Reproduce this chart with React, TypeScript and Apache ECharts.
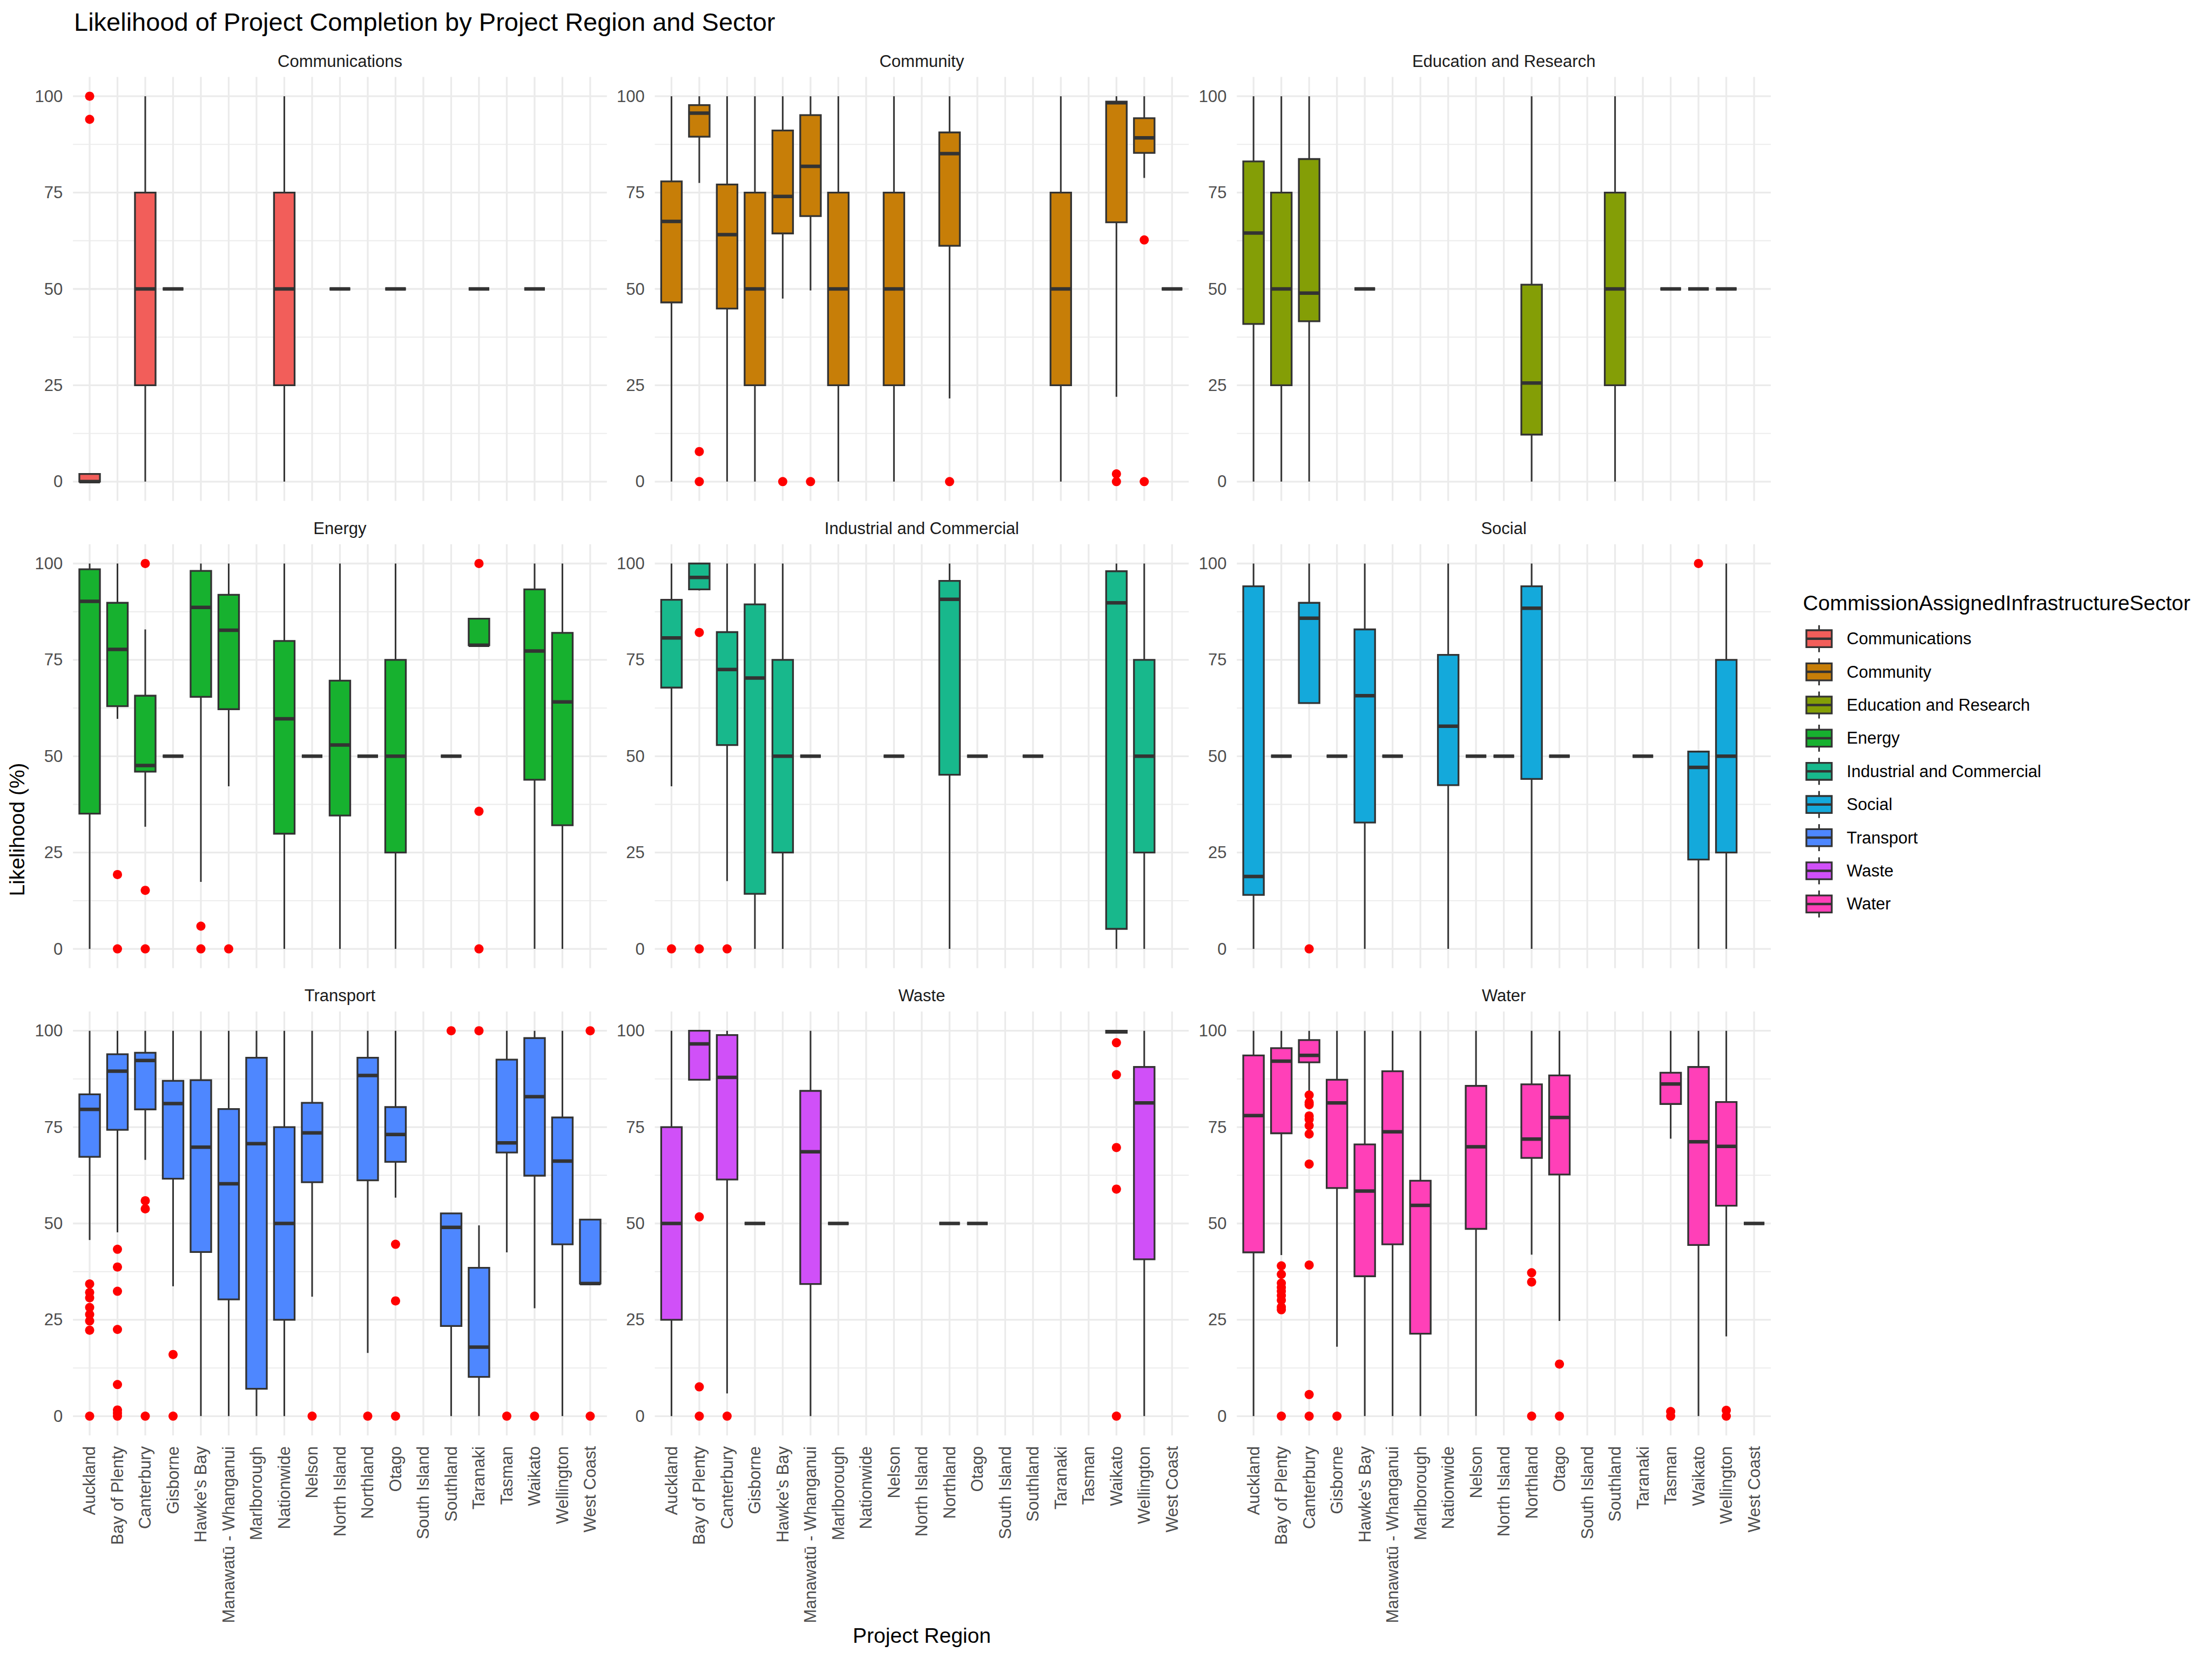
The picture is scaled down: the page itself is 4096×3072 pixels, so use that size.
import React, { useEffect, useRef } from "react";
import * as echarts from "echarts";

const regions = [
  "Auckland", "Bay of Plenty", "Canterbury", "Gisborne", "Hawke's Bay",
  "Manawatū - Whanganui", "Marlborough", "Nationwide", "Nelson", "North Island",
  "Northland", "Otago", "South Island", "Southland", "Taranaki", "Tasman",
  "Waikato", "Wellington", "West Coast",
];

const sectors = [
  "Communications", "Community", "Education and Research", "Energy",
  "Industrial and Commercial", "Social", "Transport", "Waste", "Water",
];

const sectorColors = [
  "#F25E5A", "#C77E08", "#849E06", "#17B12F", "#18B88C",
  "#14A9DB", "#4E87FF", "#D050F8", "#FF40B8",
];

const yMajorTicks = [0, 25, 50, 75, 100];
const yMinorTicks = [12.5, 37.5, 62.5, 87.5];

type Box = [string, number, number, number, number, number]; // region, lower whisker, q1, median, q3, upper whisker
type Out = [string, number];

const communicationsBoxes: Box[] = [
  ["Auckland", 0, 0, 0, 2, 2],
  ["Canterbury", 0, 25, 50, 75, 100],
  ["Gisborne", 50, 50, 50, 50, 50],
  ["Nationwide", 0, 25, 50, 75, 100],
  ["North Island", 50, 50, 50, 50, 50],
  ["Otago", 50, 50, 50, 50, 50],
  ["Taranaki", 50, 50, 50, 50, 50],
  ["Waikato", 50, 50, 50, 50, 50],
];
const communicationsOutliers: Out[] = [["Auckland", 100], ["Auckland", 94]];

const communityBoxes: Box[] = [
  ["Auckland", 0, 46.5, 67.5, 77.9, 100],
  ["Bay of Plenty", 77.5, 89.5, 95.6, 97.7, 100],
  ["Canterbury", 0, 44.9, 64.1, 77.1, 100],
  ["Gisborne", 0, 25, 50, 75, 100],
  ["Hawke's Bay", 47.5, 64.4, 74, 91.1, 100],
  ["Manawatū - Whanganui", 49.6, 68.9, 81.8, 95.1, 100],
  ["Marlborough", 0, 25, 50, 75, 100],
  ["Nelson", 0, 25, 50, 75, 100],
  ["Northland", 21.6, 61.2, 85.1, 90.6, 100],
  ["Taranaki", 0, 25, 50, 75, 100],
  ["Waikato", 22, 67.3, 98.3, 98.6, 100],
  ["Wellington", 78.8, 85.3, 89.2, 94.3, 100],
  ["West Coast", 50, 50, 50, 50, 50],
];
const communityOutliers: Out[] = [
  ["Bay of Plenty", 7.8], ["Bay of Plenty", 0], ["Hawke's Bay", 0],
  ["Manawatū - Whanganui", 0], ["Northland", 0], ["Waikato", 2], ["Waikato", 0],
  ["Wellington", 62.7], ["Wellington", 0],
];

const educationBoxes: Box[] = [
  ["Auckland", 0, 40.9, 64.5, 83.1, 100],
  ["Bay of Plenty", 0, 25, 50, 75, 100],
  ["Canterbury", 0, 41.6, 48.9, 83.7, 100],
  ["Hawke's Bay", 50, 50, 50, 50, 50],
  ["Northland", 0, 12.2, 25.6, 51.1, 100],
  ["Southland", 0, 25, 50, 75, 100],
  ["Tasman", 50, 50, 50, 50, 50],
  ["Waikato", 50, 50, 50, 50, 50],
  ["Wellington", 50, 50, 50, 50, 50],
];
const educationOutliers: Out[] = [];

const energyBoxes: Box[] = [
  ["Auckland", 0, 35.1, 90.2, 98.5, 100],
  ["Bay of Plenty", 59.7, 63.0, 77.7, 89.8, 100],
  ["Canterbury", 31.7, 46.0, 47.6, 65.7, 82.9],
  ["Gisborne", 50, 50, 50, 50, 50],
  ["Hawke's Bay", 17.4, 65.4, 88.6, 98.1, 100],
  ["Manawatū - Whanganui", 42.2, 62.2, 82.7, 91.9, 100],
  ["Nationwide", 0, 29.9, 59.7, 79.9, 100],
  ["Nelson", 50, 50, 50, 50, 50],
  ["North Island", 0, 34.6, 52.9, 69.6, 100],
  ["Northland", 50, 50, 50, 50, 50],
  ["Otago", 0, 25, 50, 75, 100],
  ["Southland", 50, 50, 50, 50, 50],
  ["Taranaki", 78.8, 78.8, 78.8, 85.7, 85.7],
  ["Waikato", 0, 43.9, 77.3, 93.3, 100],
  ["Wellington", 0, 32.1, 64.1, 82.0, 100],
];
const energyOutliers: Out[] = [
  ["Bay of Plenty", 19.3], ["Bay of Plenty", 0],
  ["Canterbury", 100], ["Canterbury", 15.2], ["Canterbury", 0],
  ["Hawke's Bay", 5.9], ["Hawke's Bay", 0], ["Manawatū - Whanganui", 0],
  ["Taranaki", 100], ["Taranaki", 35.7], ["Taranaki", 0],
];

const industrialBoxes: Box[] = [
  ["Auckland", 42.2, 67.8, 80.7, 90.6, 100],
  ["Bay of Plenty", 93, 93.3, 96.4, 100, 100],
  ["Canterbury", 17.6, 52.9, 72.5, 82.2, 100],
  ["Gisborne", 0, 14.3, 70.3, 89.4, 100],
  ["Hawke's Bay", 0, 25, 50, 75, 100],
  ["Manawatū - Whanganui", 50, 50, 50, 50, 50],
  ["Nelson", 50, 50, 50, 50, 50],
  ["Northland", 0, 45.2, 90.7, 95.5, 100],
  ["Otago", 50, 50, 50, 50, 50],
  ["Southland", 50, 50, 50, 50, 50],
  ["Waikato", 0, 5.2, 89.8, 98.0, 100],
  ["Wellington", 0, 25, 50, 75, 100],
];
const industrialOutliers: Out[] = [
  ["Auckland", 0], ["Bay of Plenty", 82.1], ["Bay of Plenty", 0], ["Canterbury", 0],
];

const socialBoxes: Box[] = [
  ["Auckland", 0, 14.0, 18.8, 94.1, 100],
  ["Bay of Plenty", 50, 50, 50, 50, 50],
  ["Canterbury", 63.8, 63.8, 85.8, 89.8, 100],
  ["Gisborne", 50, 50, 50, 50, 50],
  ["Hawke's Bay", 0, 32.8, 65.7, 82.9, 100],
  ["Manawatū - Whanganui", 50, 50, 50, 50, 50],
  ["Nationwide", 0, 42.5, 57.8, 76.3, 100],
  ["Nelson", 50, 50, 50, 50, 50],
  ["North Island", 50, 50, 50, 50, 50],
  ["Northland", 0, 44.1, 88.4, 94.1, 100],
  ["Otago", 50, 50, 50, 50, 50],
  ["Taranaki", 50, 50, 50, 50, 50],
  ["Waikato", 0, 23.2, 47.1, 51.2, 51.2],
  ["Wellington", 0, 25, 50, 75, 100],
];
const socialOutliers: Out[] = [["Canterbury", 0], ["Waikato", 100]];

const transportBoxes: Box[] = [
  ["Auckland", 45.7, 67.3, 79.6, 83.5, 100],
  ["Bay of Plenty", 47.7, 74.3, 89.5, 93.9, 100],
  ["Canterbury", 66.5, 79.6, 92.3, 94.3, 100],
  ["Gisborne", 33.7, 61.6, 81.1, 87.0, 100],
  ["Hawke's Bay", 0, 42.6, 69.8, 87.2, 100],
  ["Manawatū - Whanganui", 0, 30.3, 60.3, 79.7, 100],
  ["Marlborough", 0, 7.1, 70.7, 93.0, 100],
  ["Nationwide", 0, 25, 50, 75, 100],
  ["Nelson", 31.0, 60.7, 73.5, 81.3, 100],
  ["Northland", 16.4, 61.2, 88.4, 93.0, 100],
  ["Otago", 56.7, 66.0, 73.1, 80.2, 100],
  ["Southland", 0, 23.4, 49.0, 52.6, 52.6],
  ["Taranaki", 0, 10.2, 17.9, 38.5, 49.5],
  ["Tasman", 42.5, 68.4, 70.9, 92.5, 100],
  ["Waikato", 28.0, 62.4, 82.9, 98.1, 100],
  ["Wellington", 0, 44.6, 66.2, 77.5, 100],
  ["West Coast", 34.4, 34.4, 34.4, 51.0, 51.0],
];
const transportOutliers: Out[] = [
  ["Auckland", 34.3], ["Auckland", 32.1], ["Auckland", 30.7], ["Auckland", 28.2],
  ["Auckland", 26.4], ["Auckland", 24.7], ["Auckland", 22.3], ["Auckland", 0],
  ["Bay of Plenty", 43.3], ["Bay of Plenty", 38.7], ["Bay of Plenty", 32.4],
  ["Bay of Plenty", 22.5], ["Bay of Plenty", 8.2], ["Bay of Plenty", 1.6],
  ["Bay of Plenty", 0.8], ["Bay of Plenty", 0],
  ["Canterbury", 55.9], ["Canterbury", 53.8], ["Canterbury", 0],
  ["Gisborne", 16.0], ["Gisborne", 0], ["Nelson", 0], ["Northland", 0],
  ["Otago", 44.6], ["Otago", 29.9], ["Otago", 0],
  ["Southland", 100], ["Taranaki", 100], ["Tasman", 0], ["Waikato", 0],
  ["West Coast", 100], ["West Coast", 0],
];

const wasteBoxes: Box[] = [
  ["Auckland", 0, 25, 50, 75, 100],
  ["Bay of Plenty", 87.3, 87.3, 96.6, 100, 100],
  ["Canterbury", 5.9, 61.4, 87.9, 98.9, 100],
  ["Gisborne", 50, 50, 50, 50, 50],
  ["Manawatū - Whanganui", 0, 34.3, 68.6, 84.4, 100],
  ["Marlborough", 50, 50, 50, 50, 50],
  ["Northland", 50, 50, 50, 50, 50],
  ["Otago", 50, 50, 50, 50, 50],
  ["Waikato", 99.5, 99.5, 99.7, 100, 100],
  ["Wellington", 0, 40.7, 81.3, 90.6, 100],
];
const wasteOutliers: Out[] = [
  ["Bay of Plenty", 51.7], ["Bay of Plenty", 7.6], ["Bay of Plenty", 0], ["Canterbury", 0],
  ["Waikato", 96.9], ["Waikato", 88.6], ["Waikato", 69.7], ["Waikato", 58.9], ["Waikato", 0],
];

const waterBoxes: Box[] = [
  ["Auckland", 0, 42.5, 78.0, 93.6, 100],
  ["Bay of Plenty", 41.8, 73.4, 92.1, 95.5, 100],
  ["Canterbury", 83.7, 91.8, 93.6, 97.6, 100],
  ["Gisborne", 18.0, 59.2, 81.3, 87.3, 100],
  ["Hawke's Bay", 0, 36.3, 58.4, 70.5, 100],
  ["Manawatū - Whanganui", 0, 44.6, 73.8, 89.5, 100],
  ["Marlborough", 0, 21.4, 54.7, 61.1, 100],
  ["Nelson", 0, 48.6, 69.9, 85.7, 100],
  ["Northland", 41.9, 67.0, 71.9, 86.1, 100],
  ["Otago", 24.7, 62.7, 77.5, 88.4, 100],
  ["Tasman", 72.0, 81.0, 86.2, 89.1, 100],
  ["Waikato", 0, 44.4, 71.2, 90.6, 100],
  ["Wellington", 20.7, 54.6, 70.0, 81.5, 100],
  ["West Coast", 50, 50, 50, 50, 50],
];
const waterOutliers: Out[] = [
  ["Bay of Plenty", 39.0], ["Bay of Plenty", 36.8], ["Bay of Plenty", 34.5],
  ["Bay of Plenty", 33.4], ["Bay of Plenty", 32.4], ["Bay of Plenty", 31.3],
  ["Bay of Plenty", 30.1], ["Bay of Plenty", 28.3], ["Bay of Plenty", 27.6], ["Bay of Plenty", 0],
  ["Canterbury", 83.3], ["Canterbury", 81.4], ["Canterbury", 80.8], ["Canterbury", 77.9],
  ["Canterbury", 77.0], ["Canterbury", 75.4], ["Canterbury", 73.2], ["Canterbury", 65.4],
  ["Canterbury", 39.2], ["Canterbury", 5.6], ["Canterbury", 0],
  ["Gisborne", 0], ["Northland", 37.2], ["Northland", 34.8], ["Northland", 0],
  ["Otago", 13.5], ["Otago", 0], ["Tasman", 1.2], ["Tasman", 0],
  ["Wellington", 1.5], ["Wellington", 0],
];

const boxSets = [
  communicationsBoxes, communityBoxes, educationBoxes, energyBoxes, industrialBoxes,
  socialBoxes, transportBoxes, wasteBoxes, waterBoxes,
];
const outlierSets = [
  communicationsOutliers, communityOutliers, educationOutliers, energyOutliers,
  industrialOutliers, socialOutliers, transportOutliers, wasteOutliers, waterOutliers,
];

const FONT = "'Liberation Sans', Arial, Helvetica, sans-serif";
const PANEL_LEFTS = [135.1, 1212.5, 2290.3];
const PANEL_TOPS = [142.5, 1007.8, 1873];
const PANEL_W = 988.7;
const PANEL_H = 785;
const PAD = (PANEL_W * 0.1) / 19.2;
const GRID_COLOR = "#EBEBEB";
const LINE_COLOR = "#333333";

function buildOption() {
  const grid: any[] = [];
  const xAxis: any[] = [];
  const yAxis: any[] = [];
  const series: any[] = [];
  const graphic: any[] = [];

  for (let i = 0; i < 9; i++) {
    const r = Math.floor(i / 3);
    const c = i % 3;
    const left = PANEL_LEFTS[c];
    const top = PANEL_TOPS[r];
    grid.push({ left: left + PAD, top, width: PANEL_W - 2 * PAD, height: PANEL_H, containLabel: false });
    xAxis.push({
      type: "category", gridIndex: i, data: regions, boundaryGap: true,
      axisLine: { show: false }, axisTick: { show: false }, splitLine: { show: false },
      axisLabel: {
        show: r === 2, interval: 0, rotate: 90, fontSize: 31, color: "#4D4D4D",
        fontFamily: FONT, margin: 20,
      },
    });
    yAxis.push({
      type: "value", gridIndex: i, min: -5, max: 105, interval: 5,
      axisLine: { show: false }, axisTick: { show: false }, splitLine: { show: false },
      axisLabel: {
        fontSize: 31, color: "#4D4D4D", fontFamily: FONT, margin: 24,
        formatter: (v: number) => {
          const rv = Math.round(v);
          return Math.abs(v - rv) < 1e-6 && yMajorTicks.indexOf(rv) >= 0 ? String(rv) : "";
        },
      },
    });
    // grid lines
    series.push({
      type: "custom", xAxisIndex: i, yAxisIndex: i, z: 1, silent: true,
      data: [[0, 0]],
      renderItem: (params: any, api: any) => {
        const cs = params.coordSys;
        const children: any[] = [];
        for (let k = 0; k < regions.length; k++) {
          const px = api.coord([k, 0])[0];
          children.push({ type: "line", shape: { x1: px, y1: cs.y, x2: px, y2: cs.y + cs.height }, style: { stroke: GRID_COLOR, lineWidth: 3.3 } });
        }
        yMinorTicks.forEach((v) => {
          const py = api.coord([0, v])[1];
          children.push({ type: "line", shape: { x1: cs.x - PAD, y1: py, x2: cs.x + cs.width + PAD, y2: py }, style: { stroke: GRID_COLOR, lineWidth: 1.9 } });
        });
        yMajorTicks.forEach((v) => {
          const py = api.coord([0, v])[1];
          children.push({ type: "line", shape: { x1: cs.x - PAD, y1: py, x2: cs.x + cs.width + PAD, y2: py }, style: { stroke: GRID_COLOR, lineWidth: 3.3 } });
        });
        return { type: "group", children };
      },
    });
    const color = sectorColors[i];
    series.push({
      type: "custom", name: sectors[i], xAxisIndex: i, yAxisIndex: i, z: 2, silent: true,
      data: boxSets[i].map((b) => [regions.indexOf(b[0]), b[1], b[2], b[3], b[4], b[5]]),
      encode: { x: 0, y: [1, 2, 3, 4, 5] },
      renderItem: (params: any, api: any) => {
        const xi = api.value(0);
        const lo = api.coord([xi, api.value(1)]);
        const q1 = api.coord([xi, api.value(2)]);
        const md = api.coord([xi, api.value(3)]);
        const q3 = api.coord([xi, api.value(4)]);
        const hi = api.coord([xi, api.value(5)]);
        const band = api.size([1, 0])[0];
        const hw = band * 0.37;
        const cx = q1[0];
        const children: any[] = [];
        if (hi[1] < q3[1] - 0.5) children.push({ type: "line", shape: { x1: cx, y1: q3[1], x2: cx, y2: hi[1] }, style: { stroke: LINE_COLOR, lineWidth: 3 } });
        if (lo[1] > q1[1] + 0.5) children.push({ type: "line", shape: { x1: cx, y1: q1[1], x2: cx, y2: lo[1] }, style: { stroke: LINE_COLOR, lineWidth: 3 } });
        children.push({ type: "rect", shape: { x: cx - hw, y: q3[1], width: 2 * hw, height: q1[1] - q3[1] }, style: { fill: color, stroke: LINE_COLOR, lineWidth: 3.3 } });
        children.push({ type: "line", shape: { x1: cx - hw, y1: md[1], x2: cx + hw, y2: md[1] }, style: { stroke: LINE_COLOR, lineWidth: 6.5 } });
        return { type: "group", children };
      },
    });
    series.push({
      type: "scatter", xAxisIndex: i, yAxisIndex: i, z: 3, silent: true,
      symbol: "circle", symbolSize: 17,
      itemStyle: { color: "#FF0000", opacity: 1 },
      data: outlierSets[i].map((o) => [regions.indexOf(o[0]), o[1]]),
    });
    // strip text
    graphic.push({
      type: "text", x: left + PANEL_W / 2, y: top - 29.5, silent: true,
      style: { text: sectors[i], font: `31px ${FONT}`, fill: "#1A1A1A", align: "center", verticalAlign: "middle" },
    });
  }

  // title and axis titles
  graphic.push({
    type: "text", x: 137, y: 40, silent: true,
    style: { text: "Likelihood of Project Completion by Project Region and Sector", font: `47px ${FONT}`, fill: "#000000", align: "left", verticalAlign: "middle" },
  });
  graphic.push({
    type: "text", x: 1707, y: 3028, silent: true,
    style: { text: "Project Region", font: `39px ${FONT}`, fill: "#000000", align: "center", verticalAlign: "middle" },
  });
  graphic.push({
    type: "text", x: 31.5, y: 1536, rotation: Math.PI / 2, silent: true,
    style: { text: "Likelihood (%)", font: `39px ${FONT}`, fill: "#000000", align: "center", verticalAlign: "middle" },
  });

  // legend
  const legX = 3338.6;
  graphic.push({
    type: "text", x: legX, y: 1116.6, silent: true,
    style: { text: "CommissionAssignedInfrastructureSector", font: `39px ${FONT}`, fill: "#000000", align: "left", verticalAlign: "middle" },
  });
  const keyCx = 3368.4;
  sectors.forEach((s, k) => {
    const cy = 1182.7 + k * 61.4;
    graphic.push({ type: "line", silent: true, shape: { x1: keyCx, y1: cy - 25, x2: keyCx, y2: cy + 25 }, style: { stroke: LINE_COLOR, lineWidth: 3 } });
    graphic.push({ type: "rect", silent: true, shape: { x: keyCx - 23.5, y: cy - 15.7, width: 47, height: 31.4 }, style: { fill: sectorColors[k], stroke: LINE_COLOR, lineWidth: 3.3 } });
    graphic.push({ type: "line", silent: true, shape: { x1: keyCx - 23.5, y1: cy, x2: keyCx + 23.5, y2: cy }, style: { stroke: LINE_COLOR, lineWidth: 4.5 } });
    graphic.push({
      type: "text", x: 3419.6, y: cy, silent: true,
      style: { text: s, font: `31px ${FONT}`, fill: "#000000", align: "left", verticalAlign: "middle" },
    });
  });

  return {
    animation: false,
    backgroundColor: "#FFFFFF",
    grid, xAxis, yAxis, series, graphic,
  };
}

export default function App() {
  const ref = useRef<HTMLDivElement>(null);
  useEffect(() => {
    const chart = echarts.init(ref.current!, null, { renderer: "svg" });
    chart.setOption(buildOption() as any);
    return () => chart.dispose();
  }, []);
  return (
    <div
      ref={ref}
      style={{ position: "fixed", left: 0, top: 0, width: 4096, height: 3072, background: "#FFFFFF" }}
    />
  );
}
